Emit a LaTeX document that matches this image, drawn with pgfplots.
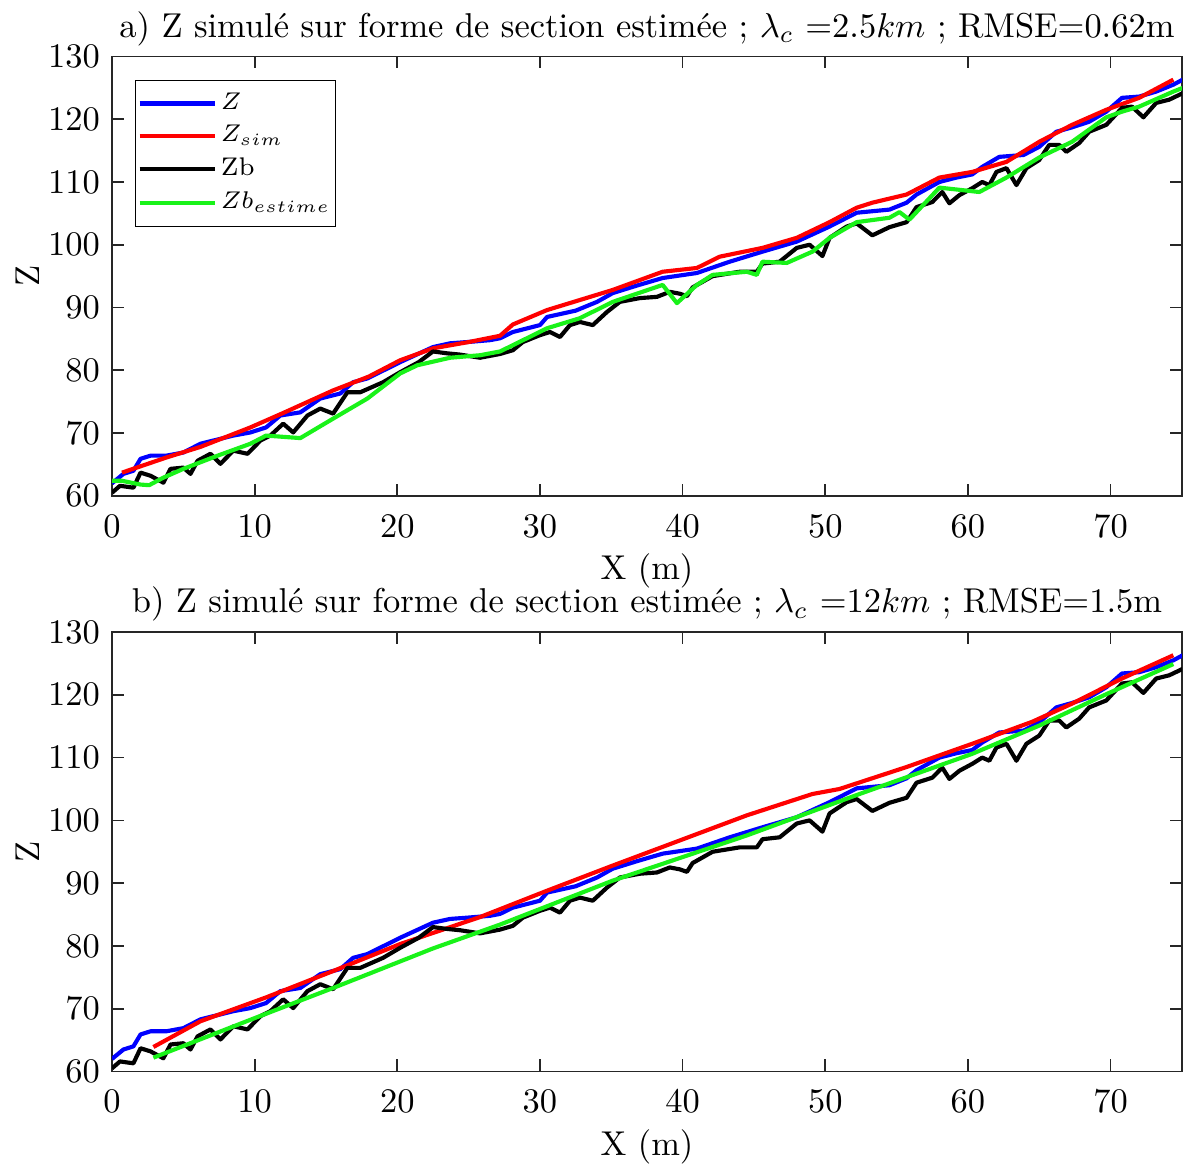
\documentclass[border=0pt]{standalone}
\usepackage{pgfplots}
\usepackage{pgfplotstable}
\pgfplotsset{compat=1.18}

\definecolor{mblue}{rgb}{0,0,1}
\definecolor{mred}{rgb}{1,0,0}
\definecolor{mgreen}{rgb}{0.1,0.95,0.1}

\pgfplotstableread{
x y
0 62.0
0.8 63.5
1.5 64.0
2.0 65.9
2.7 66.4
3.8 66.4
5.0 66.9
6.2 68.3
8.5 69.6
9.7 70.1
10.8 70.9
11.8 72.8
13.2 73.3
14.6 75.5
16.0 76.3
16.9 78.1
17.9 78.7
20.2 81.3
22.5 83.7
23.7 84.3
24.9 84.5
26.5 84.8
27.2 85.1
28.1 86.1
30.0 87.2
30.5 88.5
32.5 89.5
34.0 90.9
35.1 92.3
36.8 93.5
38.6 94.7
41.0 95.5
43.3 97.3
45.6 98.9
48.0 100.5
50.3 102.9
52.2 105.1
54.5 105.6
55.7 106.7
56.4 108.0
58.0 110.0
59.2 110.7
60.3 111.2
61.0 112.4
62.2 114.0
63.9 114.3
65.0 115.6
66.2 118.0
67.3 118.7
68.5 119.6
69.7 121.2
70.8 123.4
72.0 123.6
73.2 124.4
74.4 125.5
75.3 126.6
}\Zdata

\pgfplotstableread{
x y
0 60.5
0.56 61.6
1.5 61.3
2.0 63.7
2.7 63.2
3.6 62.1
4.1 64.3
5.0 64.5
5.5 63.5
6.0 65.6
6.9 66.7
7.6 65.1
8.5 67.2
9.5 66.7
10.4 68.8
11.1 69.6
12.0 71.5
12.7 70.1
13.7 72.8
14.6 73.9
15.5 73.1
16.5 76.5
17.4 76.5
19.0 78.1
20.2 79.7
21.5 81.3
22.5 83.0
23.5 82.7
24.4 82.5
25.8 82.0
27.2 82.6
28.1 83.2
28.8 84.5
30.0 85.6
30.7 86.1
31.4 85.3
32.1 87.2
32.8 87.7
33.7 87.2
34.7 89.3
35.6 90.9
37.0 91.5
38.2 91.7
39.1 92.5
39.8 92.2
40.3 91.8
40.7 93.2
42.1 95.0
44.0 95.7
45.2 95.7
45.6 97.0
46.8 97.3
48.0 99.5
48.9 100.0
49.8 98.2
50.3 101.1
51.5 102.9
52.2 103.4
53.3 101.5
54.5 102.8
55.7 103.6
56.4 106.0
57.5 106.8
58.2 108.4
58.7 106.6
59.4 107.9
60.3 109.0
61.0 110.0
61.5 109.5
62.0 111.6
62.7 112.2
63.4 109.5
64.1 112.2
65.0 113.5
65.7 115.9
66.4 115.9
66.9 114.8
67.8 116.2
68.5 118.0
69.7 119.1
70.8 121.8
71.5 122.0
72.3 120.3
73.2 122.6
74.1 123.1
75.3 124.4
}\Zbdata

\pgfplotstableread{
x y
0.7 63.7
3.8 66.1
6.2 67.8
9.7 70.9
12.0 73.2
15.5 76.8
18.0 79.0
20.2 81.6
22.5 83.5
25.0 84.5
27.2 85.5
28.1 87.3
30.5 89.6
35.1 92.8
38.6 95.7
41.0 96.3
42.6 98.1
45.6 99.5
48.0 101.1
50.3 103.6
52.2 105.9
53.3 106.7
55.7 108.0
58.0 110.7
60.3 111.6
62.7 113.2
65.0 116.4
67.3 119.1
69.7 121.5
72.0 123.4
74.4 126.3
}\ZsimA

\pgfplotstableread{
x y
0 62.4
0.7 62.4
2.0 61.8
2.6 61.7
3.6 62.9
5.0 64.3
7.4 66.4
9.7 68.3
10.8 69.6
13.2 69.2
15.5 72.3
17.9 75.5
20.2 79.5
21.4 80.8
23.7 82.0
25.8 82.4
27.2 83.0
28.1 84.0
30.5 86.7
32.8 88.3
35.1 90.9
38.6 93.6
39.6 90.7
41.0 93.6
42.1 95.2
44.5 95.7
45.2 95.2
45.6 97.3
47.3 97.1
49.1 98.9
50.3 101.1
52.2 103.6
54.5 104.3
55.2 105.2
55.9 104.0
58.0 109.1
59.2 108.8
60.8 108.4
62.7 110.7
65.0 113.9
67.3 116.4
69.7 120.3
70.8 121.2
72.0 122.0
74.4 124.4
75.3 125.2
}\ZbestA

\pgfplotstableread{
x y
2.9 63.9
6.2 68.0
10.8 71.8
15.5 76.0
20.2 80.3
25.8 84.6
30.5 88.8
35.1 92.8
39.8 96.8
44.5 100.8
49.1 104.2
51.0 105.0
55.7 108.5
60.3 112.2
64.5 115.7
67.3 118.6
70.8 122.6
74.4 126.3
}\ZsimB

\pgfplotstableread{
x y
2.9 62.2
10.0 68.5
15.5 73.3
22.5 79.6
27.2 83.4
35.1 90.4
44.5 97.6
52.4 104.2
60.3 110.6
65.0 115.1
69.7 120.1
74.4 124.9
}\ZbestB

\pgfplotsset{
  mstyle/.style={
    scale only axis,
    width=310.4pt, height=127.5pt,
    xmin=0, xmax=75, ymin=60, ymax=130,
    xtick={0,10,...,70}, ytick={60,70,...,130},
    tick align=inside,
    major tick length=3.5pt,
    axis line style={black!85, line width=0.5pt},
    every tick/.style={black!85, line width=0.5pt},
    tick label style={font=\fontsize{10}{12}\selectfont},
    xticklabel style={yshift=-2pt},
    label style={font=\fontsize{10}{12}\selectfont},
    xlabel style={yshift=2pt},
    ylabel style={yshift=-4.5pt},
    title style={font=\fontsize{10}{12}\selectfont, yshift=-6.5pt},
    xlabel={X (m)}, ylabel={Z},
    every axis plot/.append style={line width=1.2pt, line join=round},
  },
}

\begin{document}
\begin{tikzpicture}
\begin{axis}[mstyle,
  title={a) Z simulé sur forme de section estimée ; $\lambda_c$ =2.5$km$ ; RMSE=0.62m},
  legend cell align=left,
  legend image code/.code={\draw[#1] (0pt,0pt) -- (22pt,0pt);},
  legend style={font=\fontsize{7.4}{9}\selectfont, at={(rel axis cs:0,1)}, anchor=north west,
    xshift=6.7pt, yshift=-6.7pt, draw=black, line width=0.4pt, row sep=0pt,
    column sep=0pt,
    nodes={inner xsep=1pt, inner ysep=1.6pt},
    inner xsep=0.5pt, inner ysep=2pt},
]
\addplot[mblue] table {\Zdata};
\addlegendentry{$Z$}
\addplot[mred] table {\ZsimA};
\addlegendentry{$Z_{sim}$}
\addplot[black] table {\Zbdata};
\addlegendentry{Zb}
\addplot[mgreen] table {\ZbestA};
\addlegendentry{$Zb_{estime}$}
\coordinate (TR) at (rel axis cs:1,1);
\end{axis}
\begin{axis}[mstyle, at={(0pt,-167pt)},
  title={b) Z simulé sur forme de section estimée ; $\lambda_c$ =12$km$ ; RMSE=1.5m},
]
\addplot[mblue] table {\Zdata};
\addplot[mred] table {\ZsimB};
\addplot[black] table {\Zbdata};
\addplot[mgreen] table {\ZbestB};
\coordinate (BL) at (rel axis cs:0,0);
\end{axis}
\path ([shift={(-32.5pt,-25.5pt)}]BL) rectangle ([shift={(0.9pt,15.1pt)}]TR);
\end{tikzpicture}
\end{document}
